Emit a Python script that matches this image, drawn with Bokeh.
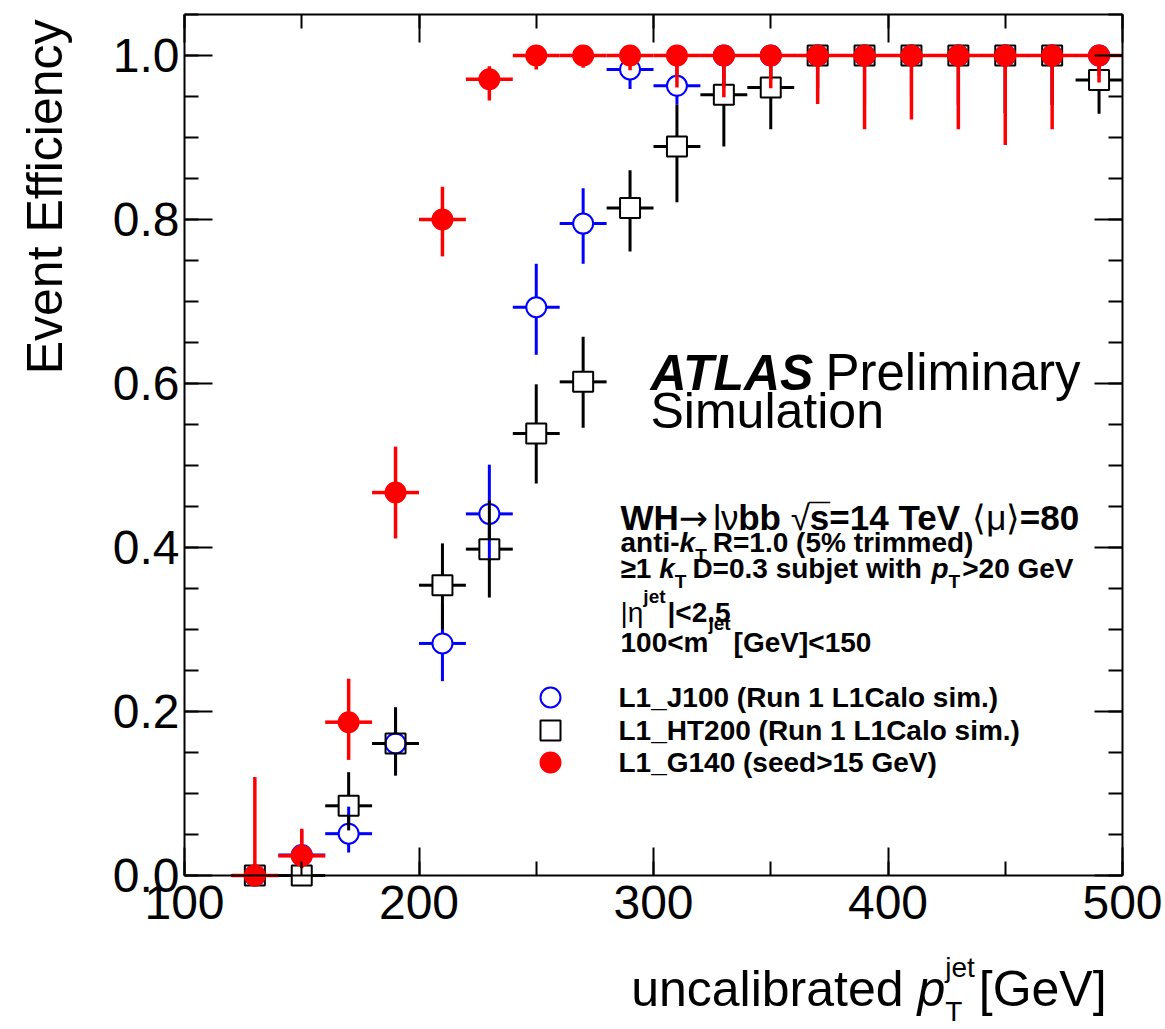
import math
from bokeh.plotting import figure
from bokeh.models import (Range1d, LinearAxis, SingleIntervalTicker, PrintfTickFormatter,
                          Label, ColumnDataSource, CustomLabelingPolicy)
from bokeh.embed import file_html
from bokeh.resources import INLINE

# ---------------- data ----------------
pt_bins = [130, 150, 170, 190, 210, 230, 250, 270, 290, 310,
           330, 350, 370, 390, 410, 430, 450, 470, 490]
bin_half_width = 10

j100_eff = [0.0, 0.025, 0.051, 0.161, 0.283, 0.441, 0.693, 0.795, 0.983, 0.963,
            1.0, 1.0, 1.0, 1.0, 1.0, 1.0, 1.0, 1.0, 1.0]
j100_lo = [0.0, 0.010, 0.028, 0.122, 0.237, 0.383, 0.635, 0.746, 0.959, 0.940,
           0.960, 0.970, 0.960, 0.940, 0.950, 0.940, 0.930, 0.940, 0.975]
j100_hi = [0.0, 0.055, 0.084, 0.205, 0.332, 0.501, 0.746, 0.838, 1.0, 1.0,
           1.0, 1.0, 1.0, 1.0, 1.0, 1.0, 1.0, 1.0, 1.0]

ht200_eff = [0.0, 0.0, 0.085, 0.161, 0.354, 0.398, 0.539, 0.602, 0.814, 0.889,
             0.952, 0.961, 1.0, 1.0, 1.0, 1.0, 1.0, 1.0, 0.970]
ht200_lo = [0.0, 0.0, 0.055, 0.122, 0.300, 0.339, 0.478, 0.546, 0.761, 0.821,
            0.889, 0.910, 0.960, 0.940, 0.950, 0.940, 0.930, 0.940, 0.929]
ht200_hi = [0.0, 0.015, 0.126, 0.205, 0.405, 0.457, 0.599, 0.657, 0.860, 0.940,
            1.0, 1.0, 1.0, 1.0, 1.0, 1.0, 1.0, 1.0, 1.0]

g140_eff = [0.0, 0.024, 0.187, 0.467, 0.800, 0.971, 1.0, 1.0, 1.0, 1.0,
            1.0, 1.0, 1.0, 1.0, 1.0, 1.0, 1.0, 1.0, 1.0]
g140_lo = [0.0, 0.009, 0.141, 0.411, 0.755, 0.945, 0.983, 0.985, 0.982, 0.961,
           0.949, 0.960, 0.941, 0.910, 0.922, 0.910, 0.891, 0.910, 0.967]
g140_hi = [0.120, 0.057, 0.240, 0.523, 0.840, 0.987, 1.0, 1.0, 1.0, 1.0,
           1.0, 1.0, 1.0, 1.0, 1.0, 1.0, 1.0, 1.0, 1.0]

legend_labels = ["L1_J100 (Run 1 L1Calo sim.)",
                 "L1_HT200 (Run 1 L1Calo sim.)",
                 "L1_G140 (seed>15 GeV)"]

x_axis_range = (100, 500)
y_axis_range = (0.0, 1.05)
x_tick_step = 100
y_tick_step = 0.2

# ---------------- layout ----------------
FONT = "Liberation Sans"
W, H = 1165, 1029
FL, FR, FT, FB = 184, 1122, 14, 875          # plot box edges, canvas pixels
X0, X1 = x_axis_range
Y0, Y1 = y_axis_range

def dx(px):
    return X0 + (px - FL) * (X1 - X0) / (FR - FL)

def dy(py):
    return Y0 + (FB - py) * (Y1 - Y0) / (FB - FT)

p = figure(width=W, height=H, output_backend="svg", toolbar_location=None, title=None,
           x_range=Range1d(dx(0), dx(W)), y_range=Range1d(dy(H), dy(0)),
           min_border=0, x_axis_location=None, y_axis_location=None)
p.xgrid.visible = False
p.ygrid.visible = False
p.outline_line_color = None
p.background_fill_color = "white"
p.border_fill_color = "white"

no_labels = CustomLabelingPolicy(code="for (const i of indices) { indices.unset(i) }\nreturn indices")

def make_axis(loc, fixed, bounds, step, minors, show):
    ax = LinearAxis(ticker=SingleIntervalTicker(interval=step, num_minor_ticks=minors),
                    fixed_location=fixed, bounds=bounds)
    ax.axis_line_width = 2
    ax.axis_line_color = "black"
    ax.major_tick_in = 28
    ax.major_tick_out = 0
    ax.minor_tick_in = 14
    ax.minor_tick_out = 0
    ax.major_tick_line_width = 2
    ax.minor_tick_line_width = 2
    ax.major_tick_line_color = "black"
    ax.minor_tick_line_color = "black"
    if show:
        ax.major_label_text_font = FONT
        ax.major_label_text_font_size = "48px"
        ax.major_label_text_color = "black"
    else:
        ax.major_label_policy = no_labels
    p.add_layout(ax, loc)
    return ax

xb = make_axis("below", Y0, (X0, X1), x_tick_step, 2, True)
xb.major_label_standoff = 10
xb.formatter = PrintfTickFormatter(format="%d")
make_axis("above", Y1, (X0, X1), x_tick_step, 2, False)
yl = make_axis("left", X0, (Y0, Y1), y_tick_step, 4, True)
yl.major_label_standoff = 5
yl.formatter = PrintfTickFormatter(format="%.1f")
make_axis("right", X1, (Y0, Y1), y_tick_step, 4, False)

# marker radius in data units (error bars stop at the marker edge, as in ROOT)
R_PX = 10
rx = R_PX * (X1 - X0) / (FR - FL)
ry = R_PX * (Y1 - Y0) / (FB - FT)

def errbar_source(x, v, lo, hi):
    x0, y0, x1, y1 = [], [], [], []
    for xi, vi, l, h in zip(x, v, lo, hi):
        x0 += [xi - bin_half_width, xi + rx]
        x1 += [xi - rx, xi + bin_half_width]
        y0 += [vi, vi]
        y1 += [vi, vi]
        if h > vi + ry:
            x0.append(xi); x1.append(xi); y0.append(vi + ry); y1.append(h)
        if l < vi - ry:
            x0.append(xi); x1.append(xi); y0.append(vi - ry); y1.append(l)
    return ColumnDataSource(dict(x0=x0, y0=y0, x1=x1, y1=y1))

series = [
    (j100_eff, j100_lo, j100_hi, "#0000ff", "circle", 0.0),
    (ht200_eff, ht200_lo, ht200_hi, "#000000", "square", 0.0),
    (g140_eff, g140_lo, g140_hi, "#ff0000", "circle", 1.0),
]

for eff, lo, hi, col, mk, fa in series:
    src = errbar_source(pt_bins, eff, lo, hi)
    p.segment("x0", "y0", "x1", "y1", source=src, line_color=col,
              line_width=3.5 if fa else 3)
    p.scatter(pt_bins, eff, marker=mk, size=20, line_color=col, line_width=2,
              fill_color=col if fa else "white", fill_alpha=fa)

# ---------------- texts ----------------
REG = {" ": 278, "(": 333, ")": 333, "%": 889, "-": 333, ".": 278, "<": 584, "=": 584,
       ">": 584, "[": 278, "]": 278, "_": 556, "|": 260, "\u2192": 838, "\u2265": 549,
       "\u221a": 549, "\u03b7": 556, "\u03bd": 500, "\u03bc": 576, "\u27e8": 390, "\u27e9": 390,
       "A": 667, "C": 722, "D": 722, "E": 667, "G": 778, "H": 722, "J": 500, "L": 556,
       "P": 667, "R": 722, "S": 667, "T": 611, "V": 667, "W": 944,
       "a": 556, "b": 556, "c": 500, "d": 556, "e": 556, "f": 278, "h": 556, "i": 222,
       "j": 222, "k": 500, "l": 222, "m": 833, "n": 556, "o": 556, "p": 556, "r": 333,
       "s": 500, "t": 278, "u": 556, "v": 500, "w": 722, "y": 500}
BOLD = dict(REG)
BOLD.update({"[": 333, "]": 333, "|": 280, "A": 722, "J": 556, "L": 611,
             "b": 611, "c": 556, "d": 611, "f": 333, "h": 611, "i": 278, "j": 278,
             "k": 556, "l": 278, "m": 889, "n": 611, "o": 611, "p": 611, "r": 389,
             "s": 556, "t": 333, "u": 611, "v": 556, "w": 778, "y": 556})

BASELINE_FIX = 0.36   # em; measured offset of the rendered alphabetic baseline

def text_width(s, size, style):
    table = BOLD if "bold" in style else REG
    return sum(table.get(ch, 556) for ch in s) * size / 1000.0

def txt(px, py, s, size, style="normal", align="left", angle=0.0, font=FONT):
    if angle:
        px -= BASELINE_FIX * size
    else:
        py -= BASELINE_FIX * size
    p.add_layout(Label(x=dx(px), y=dy(py), text=s, text_font=font,
                       text_font_size=f"{size}px", text_font_style=style,
                       text_align=align, text_baseline="alphabetic", angle=angle,
                       text_color="black"))

def line(px, py, runs, align="left"):
    items, starts, x = [], [], 0.0
    for r in runs:
        group = r[1] if r[0] == "stack" else [r]
        pad = r[2] if r[0] == "stack" and len(r) > 2 else 0.0
        w = 0.0
        starts.append(x)
        for run in group:
            t, sz, st, off = run[:4]
            font = run[4] if len(run) > 4 else FONT
            extra = run[5] if len(run) > 5 else 0.0
            items.append((x, off, t, sz, st, font))
            w = max(w, text_width(t, sz, st) + extra)
        x += w + pad
    start = px - x if align == "right" else px
    for xo, off, t, sz, st, font in items:
        txt(start + xo, py + off, t, sz, style=st, font=font)
    return [start + s for s in starts]

# axis titles
txt(62, 19, "Event Efficiency", 50, align="right", angle=math.pi / 2)
line(1120, 1006, [("uncalibrated ", 50, "normal", 0),
                  ("p", 50, "italic", 0),
                  ("stack", [("T", 28, "normal", 15), ("jet", 28, "normal", -29)], 4),
                  (" [GeV]", 50, "normal", 0)], align="right")

# ATLAS label
txt(650, 390, "ATLAS", 50, style="bold italic")
txt(825, 390, "Preliminary", 51)
txt(650, 428, "Simulation", 50)

# process / selection text block
B, N, BI = "bold", "normal", "bold italic"
DJ = "DejaVu Sans"
L1S, L1Y = 35, 530
pos = line(620, L1Y, [("WH", L1S, B, 0), ("\u2192", L1S, N, 0, DJ, 5), (" l\u03bd", L1S, N, 0, FONT, -10),
                      ("bb ", L1S, B, 0), ("\u221a", L1S, N, 0), ("s=14 TeV ", L1S, B, 0),
                      ("\u27e8\u03bc\u27e9", L1S, N, 0), ("=80", L1S, B, 0)])
# overline of the square root over "s"
s_x0 = pos[5]
s_x1 = s_x0 + text_width("s", L1S, B) + 1
bar_y = L1Y - 0.80 * L1S
p.segment([dx(s_x0 - 1)], [dy(bar_y)], [dx(s_x1)], [dy(bar_y)], line_color="black", line_width=1.5)

line(620, 552, [("anti-", 28, B, 0), ("k", 28, BI, 0), ("T", 19, B, 10, FONT, 6),
                (" R=1.0 (5% trimmed)", 28, B, 0)])
line(620, 578, [("\u22651 ", 28, B, 0), ("k", 28, BI, 0), ("T", 19, B, 10, FONT, 6),
                (" D=0.3 subjet with ", 28, B, 0, FONT, -6), ("p", 28, BI, 0), ("T", 19, B, 10, FONT, 2),
                (">20 GeV", 28, B, 0)])
line(620, 622, [("|\u03b7", 28, N, 0), ("jet", 19, B, -19, FONT, 2), ("|<2.5", 28, B, 0)])
line(620, 652, [("100<m", 28, B, 0), ("jet", 19, B, -22, FONT, 3), (" [GeV]<150", 28, B, 0)])

# legend
legend_rows = [697, 730, 762]
for (eff, lo, hi, col, mk, fa), row, lab in zip(series, legend_rows, legend_labels):
    p.scatter([dx(550)], [dy(row)], marker=mk, size=20, line_color=col, line_width=2,
              fill_color=col if fa else "white", fill_alpha=fa)
    txt(618, row + 10, lab, 28, style="bold")

open("out.html", "w").write(file_html(p, INLINE))
